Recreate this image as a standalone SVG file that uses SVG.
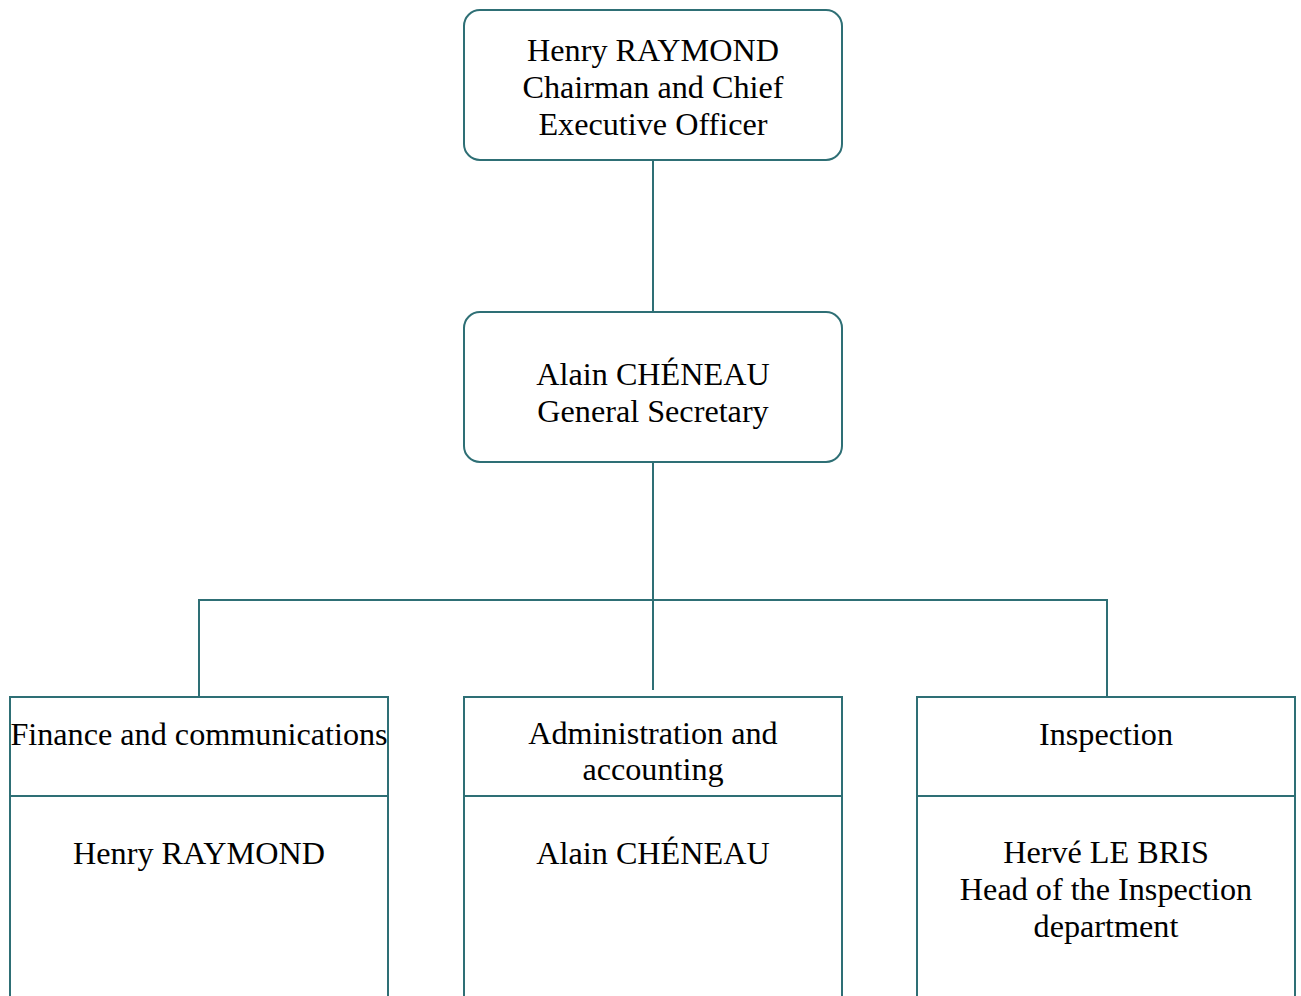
<svg xmlns="http://www.w3.org/2000/svg" width="1301" height="996" viewBox="0 0 1301 996">
<style>
.box{fill:#fff;stroke:#2e6f75;stroke-width:2}
.ln{fill:none;stroke:#2e6f75;stroke-width:2}
text{font-family:"Liberation Serif","Times New Roman",serif;font-size:32.2px;fill:#000;text-anchor:middle}
</style>
<rect width="1301" height="996" fill="#fff"/>
<g id="connectors">
<line class="ln" x1="653" y1="160" x2="653" y2="312"/>
<line class="ln" x1="653" y1="462" x2="653" y2="690"/>
<polyline class="ln" points="199,697 199,600 1107,600 1107,697"/>
</g>
<g id="ceo">
<rect class="box" x="464" y="10" width="378" height="150" rx="16"/>
<text x="653" y="61">Henry RAYMOND</text>
<text x="653" y="98">Chairman and Chief</text>
<text x="653" y="135">Executive Officer</text>
</g>
<g id="secretary">
<rect class="box" x="464" y="312" width="378" height="150" rx="16"/>
<text x="653" y="385">Alain CHÉNEAU</text>
<text x="653" y="422">General Secretary</text>
</g>
<g id="finance">
<rect class="box" x="10" y="697" width="378" height="310"/>
<line class="ln" x1="10" y1="796" x2="388" y2="796"/>
<text x="199" y="745">Finance and communications</text>
<text x="199" y="864">Henry RAYMOND</text>
</g>
<g id="administration">
<rect class="box" x="464" y="697" width="378" height="310"/>
<line class="ln" x1="464" y1="796" x2="842" y2="796"/>
<text x="653" y="744">Administration and</text>
<text x="653" y="780">accounting</text>
<text x="653" y="864">Alain CHÉNEAU</text>
</g>
<g id="inspection">
<rect class="box" x="917" y="697" width="378" height="310"/>
<line class="ln" x1="917" y1="796" x2="1295" y2="796"/>
<text x="1106" y="745">Inspection</text>
<text x="1106" y="863">Hervé LE BRIS</text>
<text x="1106" y="900">Head of the Inspection</text>
<text x="1106" y="937">department</text>
</g>
</svg>
